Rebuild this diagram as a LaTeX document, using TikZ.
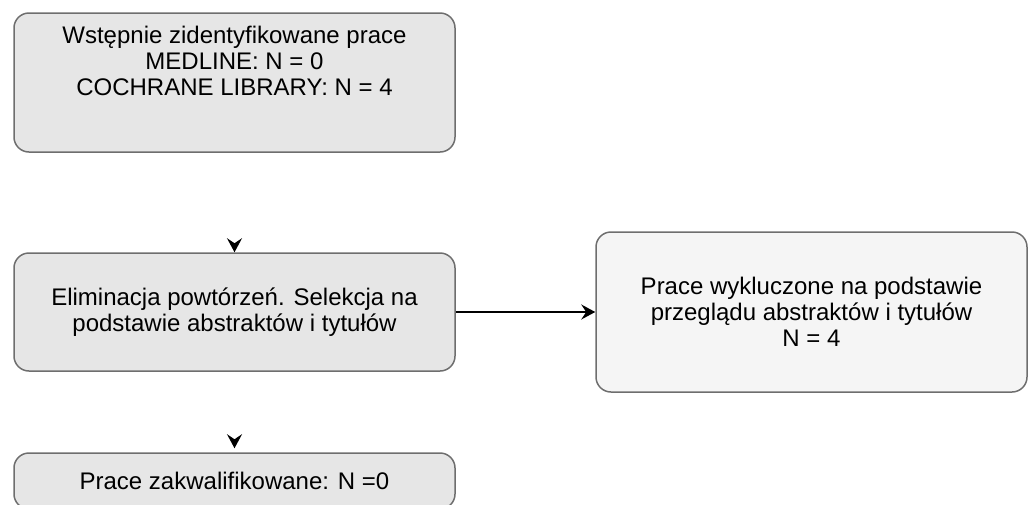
\documentclass[tikz,border=0pt]{standalone}
\usepackage{fontspec}
\setmainfont{Liberation Sans}
\usetikzlibrary{arrows.meta,positioning}
\definecolor{boxgray}{HTML}{E6E6E6}
\definecolor{boxlight}{HTML}{F5F5F5}
\definecolor{edgegray}{HTML}{6E6E6E}
\tikzset{
    stagebox/.style={draw=edgegray,line width=1.5pt,fill=boxgray,rounded corners=15pt,minimum width=441pt,inner sep=0pt},
    boxtext/.style={align=center,inner sep=0pt,font=\fontsize{24}{26}\selectfont},
    tip/.style={-{Stealth[length=14pt,width=15pt,inset=5pt,color=black,fill=black]}},
}
\begin{document}
\begin{tikzpicture}[x=1pt,y=-1pt]
        \useasboundingbox (0,0) rectangle (1028,504);
        %% Boxes
        \node[stagebox,minimum height=139pt] (ident) at (234.5,82.5) {};
        \node[boxtext] (identtxt) at (234.5,61) {Wstępnie zidentyfikowane prace\\MEDLINE: N = 0\\COCHRANE LIBRARY: N = 4};
        \node[stagebox,boxtext,minimum height=118pt] (elim) at (234.5,312) {Eliminacja powtórzeń. Selekcja na\\podstawie abstraktów i tytułów};
        \node[stagebox,boxtext,fill=boxlight,minimum width=431pt,minimum height=160pt] (excl) at (811.5,312) {Prace wykluczone na podstawie\\przeglądu abstraktów i tytułów\\N = 4};
        \node[stagebox,boxtext,minimum height=56pt] (qual) at (234.5,481) {Prace zakwalifikowane: N =0};
        %% Arrows
        \draw[white,line width=1.5pt,tip] (ident) -- (elim);
        \draw[white,line width=1.5pt,tip,shorten >=4pt] (elim) -- (qual);
        \draw[line width=2pt,tip] (elim) -- (excl);
    \end{tikzpicture}
\end{document}
